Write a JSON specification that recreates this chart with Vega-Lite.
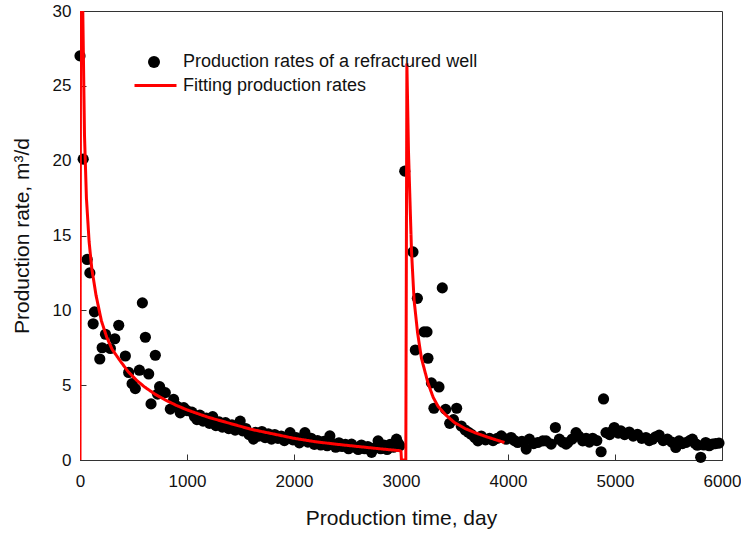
{
  "$schema": "https://vega.github.io/schema/vega-lite/v6.json",
  "width": 642,
  "height": 449,
  "autosize": {"type": "none"},
  "padding": {"left": 80, "top": 11, "right": 19, "bottom": 73},
  "background": "white",
  "config": {
    "font": "Liberation Sans",
    "view": {"stroke": "#333333", "strokeWidth": 1},
    "axis": {
      "grid": false,
      "domainColor": "#333333",
      "tickColor": "#333333",
      "tickSize": -6,
      "labelFlush": false,
      "labelOverlap": false,
      "labelFont": "Liberation Sans",
      "labelFontSize": 17,
      "labelColor": "#111111",
      "titleFont": "Liberation Sans",
      "titleFontSize": 21,
      "titleFontWeight": "normal",
      "titleColor": "#111111"
    },
    "legend": {
      "labelFont": "Liberation Sans",
      "labelFontSize": 18,
      "labelColor": "#111111",
      "labelLimit": 0,
      "padding": 0,
      "title": null
    }
  },
  "datasets": {
    "obs": [
      {"day": 0, "rate": 27.0}, {"day": 30, "rate": 20.1}, {"day": 67, "rate": 13.4}, {"day": 92, "rate": 12.5},
      {"day": 123, "rate": 9.1}, {"day": 135, "rate": 9.9}, {"day": 185, "rate": 6.75}, {"day": 207, "rate": 7.5},
      {"day": 238, "rate": 8.4}, {"day": 284, "rate": 7.45}, {"day": 325, "rate": 8.1}, {"day": 362, "rate": 9.0},
      {"day": 424, "rate": 6.95}, {"day": 455, "rate": 5.85}, {"day": 487, "rate": 5.1}, {"day": 517, "rate": 4.77},
      {"day": 555, "rate": 6.0}, {"day": 583, "rate": 10.5}, {"day": 611, "rate": 8.2}, {"day": 642, "rate": 5.75},
      {"day": 664, "rate": 3.75}, {"day": 704, "rate": 7.0}, {"day": 725, "rate": 4.4}, {"day": 744, "rate": 4.9},
      {"day": 797, "rate": 4.5}, {"day": 844, "rate": 3.4}, {"day": 875, "rate": 4.05}, {"day": 905, "rate": 3.6},
      {"day": 937, "rate": 3.15}, {"day": 970, "rate": 3.5}, {"day": 1000, "rate": 3.3}, {"day": 1046, "rate": 3.2},
      {"day": 1070, "rate": 2.9}, {"day": 1093, "rate": 2.7}, {"day": 1120, "rate": 3.0}, {"day": 1150, "rate": 2.6},
      {"day": 1180, "rate": 2.8}, {"day": 1210, "rate": 2.45}, {"day": 1240, "rate": 2.9}, {"day": 1270, "rate": 2.3},
      {"day": 1300, "rate": 2.55}, {"day": 1330, "rate": 2.2}, {"day": 1360, "rate": 2.5}, {"day": 1390, "rate": 2.1},
      {"day": 1420, "rate": 2.35}, {"day": 1450, "rate": 2.0}, {"day": 1480, "rate": 2.2}, {"day": 1497, "rate": 2.6},
      {"day": 1520, "rate": 1.95}, {"day": 1550, "rate": 2.1}, {"day": 1580, "rate": 1.7}, {"day": 1621, "rate": 1.4},
      {"day": 1640, "rate": 1.85}, {"day": 1670, "rate": 1.6}, {"day": 1700, "rate": 1.9}, {"day": 1730, "rate": 1.5},
      {"day": 1760, "rate": 1.75}, {"day": 1790, "rate": 1.4}, {"day": 1820, "rate": 1.7}, {"day": 1850, "rate": 1.45},
      {"day": 1880, "rate": 1.6}, {"day": 1910, "rate": 1.3}, {"day": 1940, "rate": 1.55}, {"day": 1963, "rate": 1.83},
      {"day": 1990, "rate": 1.35}, {"day": 2020, "rate": 1.5}, {"day": 2050, "rate": 1.15}, {"day": 2080, "rate": 1.4},
      {"day": 2102, "rate": 1.83}, {"day": 2130, "rate": 1.2}, {"day": 2160, "rate": 1.45}, {"day": 2190, "rate": 1.05},
      {"day": 2220, "rate": 1.3}, {"day": 2250, "rate": 1.0}, {"day": 2280, "rate": 1.25}, {"day": 2310, "rate": 0.95},
      {"day": 2335, "rate": 1.61}, {"day": 2360, "rate": 1.1}, {"day": 2390, "rate": 0.85}, {"day": 2420, "rate": 1.15},
      {"day": 2450, "rate": 0.9}, {"day": 2480, "rate": 1.05}, {"day": 2510, "rate": 0.75}, {"day": 2538, "rate": 1.06},
      {"day": 2570, "rate": 0.85}, {"day": 2600, "rate": 0.7}, {"day": 2630, "rate": 1.0}, {"day": 2660, "rate": 0.75},
      {"day": 2690, "rate": 0.9}, {"day": 2725, "rate": 0.51}, {"day": 2750, "rate": 0.8}, {"day": 2786, "rate": 1.28},
      {"day": 2810, "rate": 0.75}, {"day": 2840, "rate": 1.0}, {"day": 2870, "rate": 0.7}, {"day": 2900, "rate": 1.05},
      {"day": 2930, "rate": 0.85}, {"day": 2958, "rate": 1.39}, {"day": 2975, "rate": 1.1}, {"day": 2988, "rate": 0.95},
      {"day": 3035, "rate": 19.3}, {"day": 3112, "rate": 13.9}, {"day": 3134, "rate": 7.35}, {"day": 3153, "rate": 10.8},
      {"day": 3215, "rate": 8.56}, {"day": 3243, "rate": 8.56}, {"day": 3252, "rate": 6.8}, {"day": 3284, "rate": 5.15},
      {"day": 3308, "rate": 3.46}, {"day": 3355, "rate": 4.88}, {"day": 3386, "rate": 11.5}, {"day": 3417, "rate": 3.38},
      {"day": 3455, "rate": 2.45}, {"day": 3490, "rate": 2.7}, {"day": 3520, "rate": 3.46}, {"day": 3563, "rate": 2.27},
      {"day": 3600, "rate": 2.0}, {"day": 3630, "rate": 1.85}, {"day": 3657, "rate": 1.72}, {"day": 3690, "rate": 1.5},
      {"day": 3719, "rate": 1.28}, {"day": 3750, "rate": 1.6}, {"day": 3790, "rate": 1.35}, {"day": 3828, "rate": 1.44},
      {"day": 3860, "rate": 1.3}, {"day": 3900, "rate": 1.45}, {"day": 3937, "rate": 1.61}, {"day": 3983, "rate": 1.39},
      {"day": 4030, "rate": 1.5}, {"day": 4060, "rate": 1.3}, {"day": 4091, "rate": 1.17}, {"day": 4130, "rate": 1.25},
      {"day": 4170, "rate": 0.73}, {"day": 4200, "rate": 1.39}, {"day": 4240, "rate": 1.1}, {"day": 4278, "rate": 1.17},
      {"day": 4325, "rate": 1.28}, {"day": 4356, "rate": 1.28}, {"day": 4403, "rate": 1.06}, {"day": 4443, "rate": 2.17},
      {"day": 4480, "rate": 1.39}, {"day": 4510, "rate": 1.2}, {"day": 4543, "rate": 1.06}, {"day": 4558, "rate": 1.17},
      {"day": 4600, "rate": 1.4}, {"day": 4636, "rate": 1.83}, {"day": 4660, "rate": 1.6}, {"day": 4698, "rate": 1.28},
      {"day": 4730, "rate": 1.45}, {"day": 4760, "rate": 1.2}, {"day": 4791, "rate": 1.45}, {"day": 4830, "rate": 1.3},
      {"day": 4870, "rate": 0.55}, {"day": 4893, "rate": 4.08}, {"day": 4916, "rate": 1.83}, {"day": 4950, "rate": 1.7},
      {"day": 4977, "rate": 1.94}, {"day": 4993, "rate": 2.17}, {"day": 5030, "rate": 1.8}, {"day": 5055, "rate": 1.94},
      {"day": 5090, "rate": 1.7}, {"day": 5133, "rate": 1.87}, {"day": 5170, "rate": 1.6}, {"day": 5210, "rate": 1.72},
      {"day": 5250, "rate": 1.45}, {"day": 5289, "rate": 1.5}, {"day": 5320, "rate": 1.3}, {"day": 5350, "rate": 1.39},
      {"day": 5380, "rate": 1.55}, {"day": 5413, "rate": 1.66}, {"day": 5450, "rate": 1.3}, {"day": 5490, "rate": 1.39},
      {"day": 5530, "rate": 1.2}, {"day": 5568, "rate": 0.84}, {"day": 5599, "rate": 1.28}, {"day": 5630, "rate": 1.1},
      {"day": 5662, "rate": 1.17}, {"day": 5700, "rate": 1.3}, {"day": 5723, "rate": 1.39}, {"day": 5750, "rate": 1.1},
      {"day": 5770, "rate": 0.99}, {"day": 5801, "rate": 0.18}, {"day": 5830, "rate": 1.0}, {"day": 5848, "rate": 1.17},
      {"day": 5880, "rate": 0.95}, {"day": 5910, "rate": 1.06}, {"day": 5940, "rate": 1.1}, {"day": 5972, "rate": 1.13}
    ],
    "fit": [
      {"day": 0, "rate": 0}, {"day": 8, "rate": 45}, {"day": 26, "rate": 30}, {"day": 42, "rate": 21.7},
      {"day": 60, "rate": 17.5}, {"day": 85, "rate": 14.6}, {"day": 110, "rate": 12.8}, {"day": 150, "rate": 11.0},
      {"day": 200, "rate": 9.3}, {"day": 250, "rate": 8.2}, {"day": 300, "rate": 7.4}, {"day": 378, "rate": 6.6},
      {"day": 450, "rate": 5.9}, {"day": 533, "rate": 5.3}, {"day": 600, "rate": 4.9}, {"day": 700, "rate": 4.4},
      {"day": 800, "rate": 4.0}, {"day": 900, "rate": 3.65}, {"day": 1000, "rate": 3.35}, {"day": 1200, "rate": 2.85},
      {"day": 1400, "rate": 2.45}, {"day": 1600, "rate": 2.05}, {"day": 1800, "rate": 1.75}, {"day": 2000, "rate": 1.45},
      {"day": 2200, "rate": 1.22}, {"day": 2400, "rate": 1.05}, {"day": 2600, "rate": 0.9}, {"day": 2800, "rate": 0.75},
      {"day": 2990, "rate": 0.62}, {"day": 3000, "rate": 0.58}, {"day": 3004, "rate": 0}, {"day": 3045, "rate": 0},
      {"day": 3055, "rate": 26.5}, {"day": 3070, "rate": 20.6}, {"day": 3098, "rate": 14.0}, {"day": 3122, "rate": 10.7},
      {"day": 3155, "rate": 8.5}, {"day": 3191, "rate": 6.8}, {"day": 3252, "rate": 5.15}, {"day": 3300, "rate": 4.2},
      {"day": 3345, "rate": 3.6}, {"day": 3420, "rate": 3.0}, {"day": 3500, "rate": 2.5}, {"day": 3600, "rate": 2.1},
      {"day": 3690, "rate": 1.83}, {"day": 3800, "rate": 1.55}, {"day": 3900, "rate": 1.32}, {"day": 3967, "rate": 1.17}
    ]
  },
  "encoding": {
    "x": {
      "field": "day", "type": "quantitative",
      "scale": {"domain": [0, 6000], "nice": false, "zero": false},
      "axis": {"values": [0, 1000, 2000, 3000, 4000, 5000, 6000], "format": "d", "title": "Production time, day", "labelPadding": 19, "titlePadding": 18}
    },
    "y": {
      "field": "rate", "type": "quantitative",
      "scale": {"domain": [0, 30], "nice": false},
      "axis": {"values": [0, 5, 10, 15, 20, 25, 30], "format": "d", "title": "Production rate, m³/d", "labelPadding": 15, "titlePadding": 20}
    }
  },
  "layer": [
    {
      "data": {"name": "obs"},
      "mark": {"type": "point", "filled": true, "size": 125, "opacity": 1, "clip": false},
      "encoding": {
        "color": {
          "datum": "Production rates of a refractured well",
          "type": "nominal",
          "scale": {"domain": ["Production rates of a refractured well"], "range": ["#000000"]},
          "legend": {
            "orient": "none",
            "legendX": 65,
            "legendY": 42,
            "symbolType": "circle",
            "symbolSize": 144,
            "symbolOpacity": 1,
            "labelOffset": 20
          }
        }
      }
    },
    {
      "data": {"name": "fit"},
      "mark": {"type": "line", "strokeWidth": 3, "color": "#ff0000", "clip": true},
      "encoding": {
        "strokeDash": {
          "datum": "Fitting production rates",
          "type": "nominal",
          "scale": {"domain": ["Fitting production rates"], "range": [[1, 0]]},
          "legend": {
            "orient": "none",
            "legendX": 53,
            "legendY": 52,
            "symbolType": "stroke",
            "symbolSize": 1764,
            "symbolStrokeColor": "#ff0000",
            "symbolStrokeWidth": 3,
            "labelOffset": 5
          }
        }
      }
    }
  ]
}
